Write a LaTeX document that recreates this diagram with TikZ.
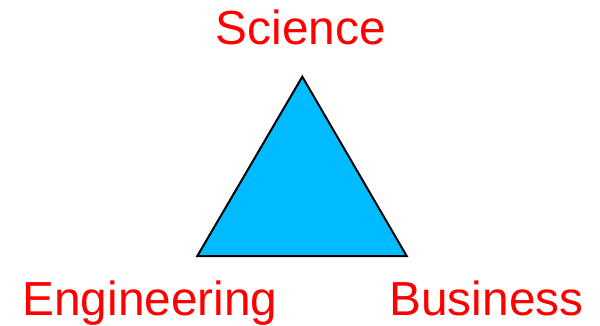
\documentclass[tikz,border=0pt]{standalone}
\usepackage{fontspec}
\setmainfont{Liberation Sans}
\definecolor{tri}{RGB}{0,187,255}
\definecolor{lbl}{RGB}{255,0,0}
\begin{document}
\begin{tikzpicture}[x=1pt,y=1pt,
  label text/.style={text=lbl,font=\fontsize{47.8}{52}\selectfont,inner sep=0pt,anchor=base},
  tri shape/.style={draw=black,fill=tri,line width=2pt,line join=miter}]
\useasboundingbox (0,0) rectangle (600,-325);
\coordinate (apex) at (302.3,-76.7);
\coordinate (bl) at (197.3,-256);
\coordinate (br) at (406.7,-256);
\draw[tri shape] (apex) -- (br) -- (bl) -- cycle;
\node[label text] (sci) at (301,-44.5) {Science};
\node[label text] (eng) at (150,-315) {Engineering};
\node[label text] (bus) at (486.5,-315) {Business};
\end{tikzpicture}
\end{document}
